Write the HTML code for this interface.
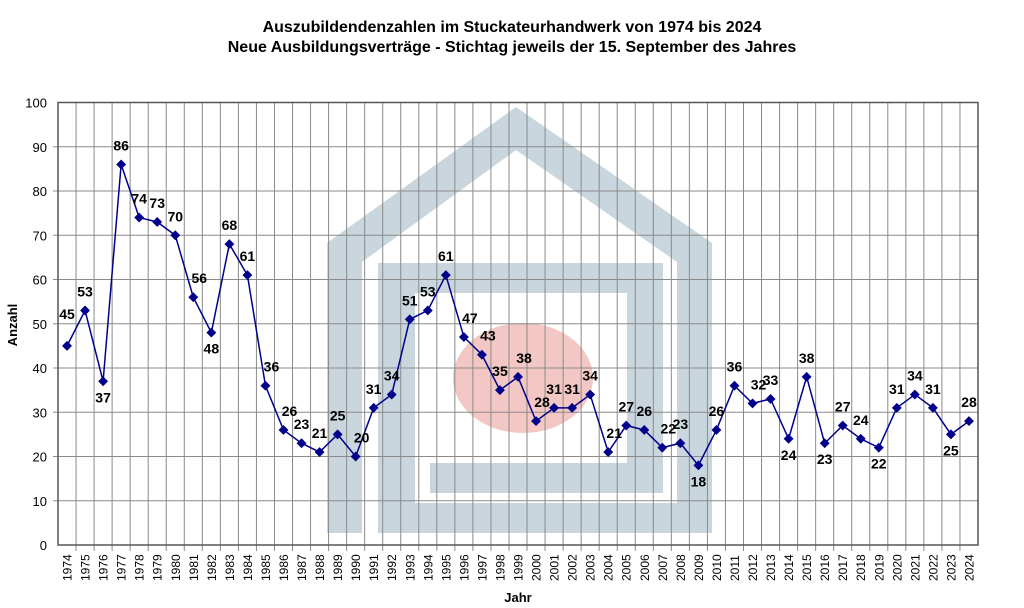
<!DOCTYPE html>
<html><head><meta charset="utf-8"><style>
body{margin:0;background:#fff;}
svg{display:block;font-family:"Liberation Sans",Arial,sans-serif;}
</style></head><body>
<svg width="1024" height="608" xmlns="http://www.w3.org/2000/svg">
<rect width="1024" height="608" fill="#fff"/>
<text x="512" y="32" font-size="16" font-weight="bold" text-anchor="middle">Auszubildendenzahlen im Stuckateurhandwerk von 1974 bis 2024</text>
<text x="512" y="52" font-size="16" font-weight="bold" text-anchor="middle">Neue Ausbildungsverträge - Stichtag jeweils der 15. September des Jahres</text>
<g fill="#c9d6de">
<path d="M327,533 L327,243 L516,107 L712,243 L712,533 L677,533 L677,262 L516,150 L362,262 L362,533 Z"/>
<path d="M378,263 H663 V493 H430 V463 H627 V293 H415 V533 H378 Z"/>
<rect x="378" y="503" width="334" height="30"/>
</g>
<ellipse cx="523" cy="378" rx="70" ry="55" fill="#f3c8c4"/>
<g id="grid" stroke="#8a8a8a" stroke-width="1"></g>
<rect x="58" y="102.5" width="920" height="442.5" fill="none" stroke="#555" stroke-width="1.5"/>
<g id="ylab" font-size="13" text-anchor="end"></g>
<g id="xlab" font-size="12"></g>
<polyline id="line" fill="none" stroke="#00008b" stroke-width="1.5"/>
<g id="pts" fill="#00008b"></g>
<g id="vals" font-size="14" font-weight="bold" text-anchor="middle"></g>
<text transform="translate(17,325) rotate(-90)" font-size="13" font-weight="bold" text-anchor="middle">Anzahl</text>
<text x="518" y="602" font-size="13" font-weight="bold" text-anchor="middle">Jahr</text>
</svg>
<script>
var d=[45,53,37,86,74,73,70,56,48,68,61,36,26,23,21,25,20,31,34,51,53,61,47,43,35,38,28,31,31,34,21,27,26,22,23,18,26,36,32,33,24,38,23,27,24,22,31,34,31,25,28];
var below={2:1,8:1,35:1,40:1,42:1,45:1,49:1};
var right={7:1,11:1,12:1,16:1,22:1,23:1,25:1,26:1,30:1,33:1,38:1};
var ns="http://www.w3.org/2000/svg";
function el(t,a,p,txt){var e=document.createElementNS(ns,t);for(var k in a)e.setAttribute(k,a[k]);if(txt!=null)e.textContent=txt;document.getElementById(p).appendChild(e);}
var L=58,R=978,T=102.5,B=545,w=(R-L)/51;
function Y(v){return B-(B-T)*v/100;}
for(var i=1;i<51;i++){var x=L+w*i;el('line',{x1:x,y1:T,x2:x,y2:B+6},'grid');}
for(var v=10;v<100;v+=10){el('line',{x1:L-5,y1:Y(v),x2:R,y2:Y(v)},'grid');}
for(var v=0;v<=100;v+=10){el('text',{x:47,y:Y(v)+5},'ylab',v);}
var pts=[];
for(var i=0;i<51;i++){var x=L+w*(i+0.5),y=Y(d[i]);pts.push(x+','+y);
el('rect',{x:x-3.5,y:y-3.5,width:7,height:7,transform:'rotate(45 '+x+' '+y+')'},'pts');
var lx=x+(right[i]?6:0),ly=below[i]?y+21:y-14;
if(i==0)ly=y-27;
el('text',{x:lx,y:ly},'vals',d[i]);
el('text',{transform:'translate('+(x+4.5)+',581) rotate(-90)'},'xlab',1974+i);}
document.getElementById('line').setAttribute('points',pts.join(' '));
</script>
</body></html>
